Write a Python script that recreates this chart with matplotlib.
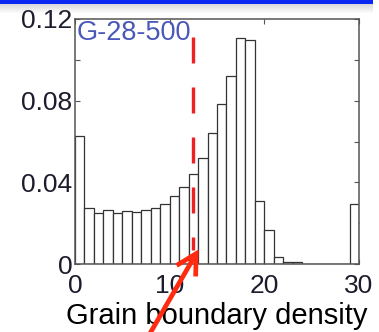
import numpy as np
import matplotlib
matplotlib.use("Agg")
import matplotlib.pyplot as plt
from matplotlib.patches import Rectangle, FancyArrowPatch

# ---- data ----
bin_left = list(range(30))
fractions = [0.0628, 0.0273, 0.0250, 0.0266, 0.0250, 0.0258, 0.0253, 0.0266,
             0.0273, 0.0295, 0.0335, 0.0377, 0.0442, 0.0521, 0.0642, 0.0785,
             0.0921, 0.1109, 0.1096, 0.0309, 0.0165, 0.0036, 0.0012, 0.0010,
             0.0, 0.0, 0.0, 0.0, 0.0, 0.0295]
threshold = 12.5
threshold_top = 0.111
xticks = [0, 10, 20, 30]
xticklabels = ["0", "10", "20", "30"]
yticks = [0, 0.02, 0.04, 0.06, 0.08, 0.10, 0.12]
yticklabels = ["0", "", "0.04", "", "0.08", "", "0.12"]
sample_label = "G-28-500"
xlabel = "Grain boundary density"

plt.rcParams['font.family'] = ['Liberation Sans', 'DejaVu Sans']

W, H = 379, 332
fig = plt.figure(figsize=(W / 100, H / 100), dpi=100)
ax = fig.add_axes([75 / W, 1 - 264 / H, (359 - 75) / W, (264 - 19) / H])

ax.bar(bin_left, fractions, width=1.0, align='edge', facecolor='white',
       edgecolor='#333333', linewidth=0.9, zorder=2)

ax.plot([threshold, threshold], [threshold_top, 0.007], color='#ee2020',
        linewidth=2.4, linestyle=(0, (7.8, 7.2)), solid_capstyle='butt',
        dash_capstyle='butt', zorder=3)

ax.set_xlim(0, 30)
ax.set_ylim(0, 0.12)
ax.set_xticks(xticks)
ax.set_xticklabels(xticklabels)
ax.set_yticks(yticks)
ax.set_yticklabels(yticklabels)
ax.tick_params(direction='in', length=3.5, width=0.8, color='#555555',
               top=True, right=True, labelsize=19, labelcolor='#1c1c2c')
ax.tick_params(axis='x', pad=7)
ax.tick_params(axis='y', pad=2)
for s in ax.spines.values():
    s.set_color('#555555')
    s.set_linewidth(1.1)

ax.set_xlabel(xlabel, fontsize=21, color='black', labelpad=3)

ax.text(0.005, 0.995, sample_label, transform=ax.transAxes, ha='left', va='top',
        fontsize=19.5, color='#4a58b8', zorder=4)

# top blue bar with shadow
for i in range(10):
    a = 0.35 * (1 - i / 10)
    fig.patches.append(Rectangle((0, 1 - (4 + i) / H), 373 / W, 1 / H,
                                 transform=fig.transFigure, facecolor='#888888',
                                 edgecolor='none', alpha=a))
fig.patches.append(Rectangle((0, 1 - 4 / H), 373 / W, 4 / H,
                             transform=fig.transFigure, facecolor='#0a28f2',
                             edgecolor='none'))

# red arrow
arrow = FancyArrowPatch((145 / W, 1 - 342 / H), (200 / W, 1 - 247 / H),
                        transform=fig.transFigure,
                        arrowstyle='->,head_length=6,head_width=3.3',
                        color='#ff2a10', linewidth=3.4, mutation_scale=2.4,
                        joinstyle='miter', capstyle='butt')
fig.patches.append(arrow)

fig.savefig('out.png', dpi=100)
